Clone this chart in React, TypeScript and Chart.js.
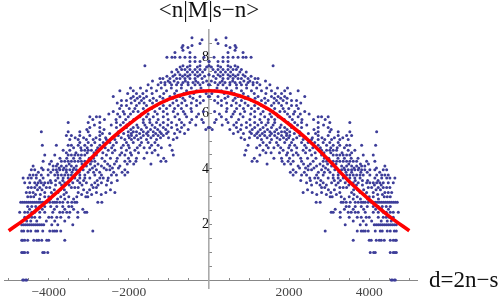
import React, { useEffect, useRef } from "react";
import { Chart, registerables } from "chart.js";

Chart.register(...registerables);

const rowLevels = [0.02, 1.0, 1.44, 1.77, 2.0, 2.27, 2.45, 2.65, 2.8, 3.0, 3.15, 3.33, 3.5, 3.67, 3.78, 3.97, 4.1, 4.27, 4.5, 4.67, 4.85, 4.95, 5.05, 5.2, 5.33, 5.48, 5.66, 5.87, 6.06, 6.27, 6.45, 6.6, 6.8, 7.02, 7.1, 7.24, 7.38, 7.56, 7.7, 7.85, 8.0, 8.17, 8.25, 8.35, 8.42, 8.5, 8.63, 8.7,
  3.08, 3.25, 3.42, 3.58, 3.88, 4.03, 4.18, 4.38, 4.58, 4.76, 5.12, 5.27, 5.41, 5.57, 5.77, 5.97, 6.17, 6.36, 6.53, 6.7, 6.9, 7.15, 7.32, 7.47, 7.65, 2.92, 2.55, 2.13];
const rowOffsets = [
  [4650, 4625, 4575, 4550],
  [4675, 4640, 4600, 4525, 4150, 4110, 4025],
  [4675, 4650, 4600, 4525, 4375, 4300, 4250, 4175, 4050, 4000, 3600],
  [4675, 4625, 4525, 4450, 4325, 4275, 4150, 3975, 3900, 3850, 3800, 3700, 2900],
  [4675, 4625, 4575, 4525, 4475, 4425, 4375, 4325, 4275, 4225, 4175, 4125, 3925, 3775, 3400],
  [4600, 4500, 4425, 4350, 4225, 4000, 3925, 3800, 3700, 3500, 3275],
  [4725, 4600, 4525, 4425, 4350, 4225, 4100, 3900, 3725, 3650, 3550, 3475, 3275, 3100, 3050],
  [4525, 4425, 4325, 4225, 4100, 3950, 3800, 3650, 3500, 3425],
  [4700, 4650, 4600, 4550, 4500, 4450, 4400, 4350, 4300, 4250, 4200, 4150, 4100, 4050, 3975, 3900, 3850, 3800, 3725, 3650, 3525, 3425, 3350, 3300, 2775, 2675],
  [4525, 4450, 4375, 4100, 4000, 3700, 3500, 3300, 3075, 3025],
  [4560, 4475, 4390, 4100, 3935, 3770, 3560, 3265, 3040, 2810, 2575, 2350],
  [4515, 4435, 4350, 4225, 4060, 3975, 3435, 3350, 3265, 2890, 2810],
  [4600, 4475, 4350, 4265, 4185, 4100, 4015, 3935, 3725, 3600, 3400, 3225, 3060, 2850, 2685, 2435],
  [4640, 4515, 4435, 4310, 4140, 3770, 3640, 3515, 3350, 3225, 3100, 2975, 2725, 2640, 2515],
  [4475, 4390, 4310, 4185, 4015, 3850, 3770, 3685, 3600, 3515, 3435, 3350, 3225, 3100, 2850, 2685, 2435, 2310, 2100],
  [4435, 4350, 4140, 4015, 3890, 3810, 3725, 3640, 3560, 3475, 3390, 3310, 3140, 2975, 2810, 2560, 2475, 2100],
  [4390, 3890, 3810, 3685, 3560, 3435, 3310, 3060, 2850, 2685, 2475, 2225],
  [4140, 3935, 3685, 3600, 3515, 3435, 3350, 3265, 3185, 3100, 3015, 2935, 2850, 2600, 2310, 2100, 1975, 1825, 1200, 1075],
  [4100, 3850, 3515, 3435, 3350, 3265, 3185, 3100, 2810, 2560, 2225, 2100, 1935, 1270, 890],
  [3640, 3475, 3185, 3100, 3015, 2935, 2810, 2515, 2350, 2060, 1850, 1350, 920],
  [4160, 3810, 3515, 3435, 3265, 3100, 2935, 2725, 2390, 2140, 2015, 1725, 1435, 1270, 975],
  [3225, 3015, 2850, 2640, 2475, 2310, 2060, 1890, 1685, 1520, 1350],
  [3475, 3265, 3060, 2890, 2725, 2560, 2350, 2100, 1935, 1770, 1560, 1310, 890],
  [3560, 3435, 3225, 2975, 2725, 2265, 2015, 1935, 1810, 1640, 1520, 1390, 1270, 1140],
  [4185, 3515, 3225, 3015, 2725, 2265, 2015, 1890, 1810, 1640, 1520, 1390, 1225, 1020, 725],
  [2975, 2725, 2310, 2060, 1890, 1770, 1560, 1350, 1140, 935, 685, 15],
  [3515, 3015, 2725, 2310, 2140, 1975, 1640, 1475, 1310, 1140, 935, 685, 475, 140],
  [2975, 2810, 2725, 2225, 2015, 1725, 1560, 1390, 1140, 850, 560, 310],
  [2390, 2140, 1890, 1770, 1600, 1350, 1140, 890, 640, 435, 140],
  [2185, 2060, 1810, 1560, 1310, 1140, 975, 770, 560, 310],
  [2185, 2060, 1850, 1685, 1475, 1310, 1060, 810, 600, 310, 140],
  [2390, 1890, 1725, 1560, 1225, 975, 725, 475, 225, 15],
  [2225, 1890, 1560, 1310, 1060, 810, 560, 310, 140],
  [1520, 1270, 1100, 935, 810, 685, 520, 350, 225, 15],
  [1200, 1100, 975, 775, 650, 525, 400, 275, 150],
  [1225, 1150, 975, 808, 725, 600, 475, 350, 175],
  [850, 725, 600, 475, 350, 225, 0],
  [808, 683, 600, 475, 350, 225, 100],
  [1600, 650, 475, 225, 0],
  [475, 350, 225, 0],
  [1050, 925, 850, 725, 600, 475, 350, 125],
  [475, 850],
  [650],
  [525, 675],
  [425, 650],
  [225],
  [175],
  [425],
  [4330, 4210, 3890, 3620, 3180, 2930, 2690],
  [4280, 4170, 3860, 3710, 3610, 3130, 2980, 2460],
  [4300, 4130, 3830, 3680, 3490, 3170, 2930, 2770, 2560],
  [4220, 3960, 3830, 3650, 3460, 3280, 3130, 2790, 2530, 2290],
  [4260, 3950, 3790, 3560, 3420, 3240, 3020, 2880, 2730, 2380, 2170, 2030],
  [4180, 3740, 3620, 3370, 3190, 2910, 2620, 2410, 2260],
  [3980, 3780, 3490, 3170, 2960, 2770, 2530, 2360, 2040, 1880, 1450],
  [3720, 3550, 3380, 3220, 2990, 2880, 2670, 2460, 2290, 2010, 1810, 1620, 1130],
  [3560, 3320, 3040, 2870, 2650, 2410, 2180, 1960, 1760, 1550, 1420],
  [3380, 3200, 3040, 2780, 2590, 2430, 2190, 1990, 1790, 1620, 1480, 1190],
  [3340, 3130, 2820, 2580, 2410, 2190, 1990, 1860, 1700, 1450, 1210, 1010, 800],
  [2660, 2480, 2130, 1940, 1730, 1560, 1330, 1190, 1060, 860, 610],
  [3050, 2620, 2150, 1950, 1690, 1460, 1280, 1080, 790, 520, 80],
  [2860, 2440, 2210, 2050, 1800, 1600, 1420, 1220, 1030, 810, 620, 330],
  [2900, 2610, 2320, 2080, 1880, 1640, 1480, 1270, 1020, 740, 430, 180],
  [2500, 2280, 2110, 1960, 1690, 1520, 1290, 1040, 780, 600, 260],
  [2230, 1990, 1850, 1640, 1430, 1230, 1060, 860, 690, 450],
  [2290, 1940, 1740, 1620, 1410, 1220, 900, 680, 440, 220],
  [1950, 1790, 1630, 1390, 1150, 900, 650, 400],
  [2030, 1810, 1650, 1420, 1130, 860, 630, 380, 70],
  [1960, 1710, 1440, 1190, 940, 690, 440, 200],
  [1410, 1020, 870, 590, 330, 60],
  [1050, 900, 660, 530, 280, 110],
  [930, 770, 540, 410, 290, 160],
  [720, 540, 290, 60],
  [4230, 3960, 3780, 3600, 3380],
  [4480, 4310, 4160, 3860, 3600, 3380, 3150],
  [4550, 4450, 4300, 4060, 3850, 3600],
];

const curveOffsets = [-5000, -4500, -4000, -3500, -3000, -2500, -2000, -1500, -1000, -500, 0, 500, 1000, 1500, 2000, 2500, 3000, 3500, 4000, 4500, 5000];
const curveValues = [1.78, 2.3, 2.9, 3.55, 4.3, 5.0, 5.6, 6.13, 6.5, 6.72, 6.8, 6.72, 6.5, 6.13, 5.6, 5.0, 4.3, 3.55, 2.9, 2.3, 1.78];

const xLabels = [-4000, -2000, 2000, 4000];
const yLabels = [2, 4, 6, 8];
const titleText = "<n|M|s\u2212n>";
const axisText = "d=2n\u2212s";

const scatterPoints = rowLevels.flatMap((level, i) =>
  rowOffsets[i].flatMap((d) => [
    { x: -d, y: level },
    { x: d, y: level },
  ])
);
const curvePoints = curveOffsets.map((x, i) => ({ x, y: curveValues[i] }));

const textPlugin = {
  id: "plotText",
  afterDraw(chart: any) {
    const { ctx, scales } = chart;
    ctx.save();
    ctx.fillStyle = "#111";
    ctx.font = '23px "Liberation Serif"';
    ctx.textBaseline = "middle";
    ctx.textAlign = "center";
    ctx.fillText(titleText, scales.x.getPixelForValue(0), 11);
    ctx.textAlign = "left";
    ctx.fillText(axisText, 429, scales.y.getPixelForValue(0));
    ctx.restore();
  },
};

const noPadding = (axis: any) => {
  axis.paddingLeft = 0;
  axis.paddingRight = 0;
  axis.paddingTop = 0;
  axis.paddingBottom = 0;
};

export default function App() {
  const ref = useRef<HTMLCanvasElement>(null);
  useEffect(() => {
    document.body.style.margin = "0";
    const chart = new Chart(ref.current!, {
      type: "scatter",
      data: {
        datasets: [
          {
            type: "line",
            data: curvePoints,
            borderColor: "#ff0000",
            borderWidth: 3.6,
            pointRadius: 0,
            cubicInterpolationMode: "monotone",
            order: 0,
          },
          {
            data: scatterPoints,
            pointRadius: 1.5,
            pointBorderWidth: 0,
            pointBackgroundColor: "#3d3d99",
            order: 1,
          },
        ],
      } as any,
      options: {
        animation: false,
        responsive: false,
        layout: { padding: { left: 0, right: 83, top: 30, bottom: 12 } },
        plugins: { legend: { display: false }, tooltip: { enabled: false } },
        scales: {
          x: {
            type: "linear",
            position: { y: 0 } as any,
            min: -5117,
            max: 5192,
            afterFit: noPadding,
            afterBuildTicks(axis: any) {
              const t = [];
              for (let v = -5000; v <= 5000; v += 500) t.push({ value: v });
              axis.ticks = t;
            },
            grid: { drawOnChartArea: false, tickLength: -3, tickColor: "#888", lineWidth: 1 },
            border: { color: "#888", width: 1 },
            ticks: {
              autoSkip: false,
              maxRotation: 0,
              padding: 7,
              color: "#444",
              font: { family: "Liberation Serif", size: 13.5 },
              callback: (v: any) =>
                xLabels.includes(v) ? (v < 0 ? "\u2212" + Math.abs(v) : String(v)) : "",
            },
          },
          y: {
            type: "linear",
            position: { x: 0 } as any,
            min: -0.27,
            max: 8.98,
            afterFit: noPadding,
            afterBuildTicks(axis: any) {
              const t = [];
              for (let v = 0.5; v <= 8.5; v += 0.5) t.push({ value: v });
              axis.ticks = t;
            },
            grid: { drawOnChartArea: false, tickLength: -4, tickColor: "#888", lineWidth: 1 },
            border: { color: "#aaa", width: 1.6 },
            ticks: {
              autoSkip: false,
              padding: 15,
              color: "#111",
              font: { family: "Liberation Serif", size: 14 },
              callback: (v: any) => (yLabels.includes(v) ? String(v) : ""),
            },
          },
        },
      },
      plugins: [textPlugin],
    } as any);
    return () => chart.destroy();
  }, []);
  return <canvas ref={ref} width={500} height={300} style={{ display: "block" }} />;
}
